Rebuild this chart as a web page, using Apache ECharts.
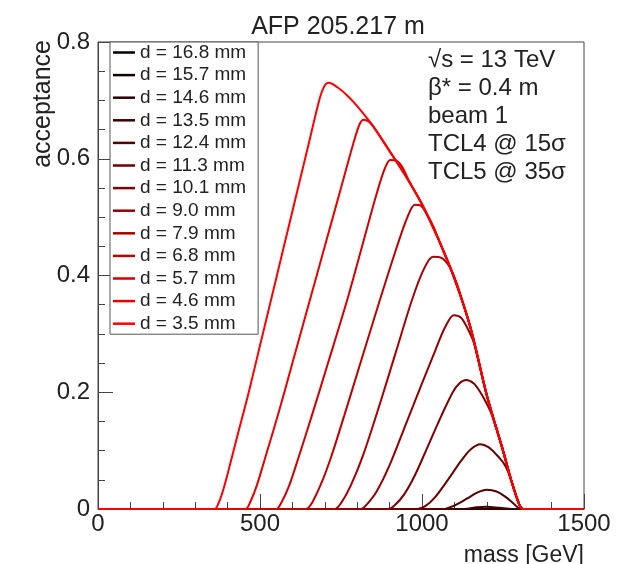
<!DOCTYPE html>
<html>
<head>
<meta charset="utf-8">
<script src="https://cdn.jsdelivr.net/npm/echarts@6/dist/echarts.min.js"></script>
<style>
  html, body { margin: 0; padding: 0; background: #fff; }
  #chart { width: 634px; height: 564px; }
</style>
</head>
<body>
<div id="chart"></div>
<script>
// [mass GeV, acceptance], one list per gap d
const d16_8 = [[0, 0], [1500, 0]];
const d15_7 = [[0, 0], [1500, 0]];
const d14_6 = [[0, 0], [1500, 0]];
const d13_5 = [[0, 0], [1130, 0], [1170, 0.003], [1200, 0.004], [1240, 0.002], [1280, 0], [1500, 0]];
const d12_4 = [[0, 0], [1065, 0], [1100, 0.006], [1140, 0.018], [1170, 0.028], [1200, 0.033], [1230, 0.03],
  [1260, 0.02], [1285, 0.008], [1305, 0], [1500, 0]];
const d11_3 = [[0, 0], [985, 0], [1010, 0.005], [1040, 0.02], [1080, 0.05], [1120, 0.082], [1150, 0.102],
  [1180, 0.111], [1205, 0.106], [1230, 0.093], [1250, 0.08], [1265, 0.065], [1280, 0.04], [1300, 0.008],
  [1312, 0], [1500, 0]];
const d10_1 = [[0, 0], [895, 0], [915, 0.006], [945, 0.025], [980, 0.06], [1020, 0.11], [1060, 0.16],
  [1095, 0.2], [1115, 0.215], [1136, 0.221], [1160, 0.215], [1180, 0.2], [1200, 0.18], [1215, 0.162],
  [1250, 0.1], [1275, 0.05], [1300, 0.008], [1312, 0], [1500, 0]];
const d9_0 = [[0, 0], [812, 0], [830, 0.008], [860, 0.03], [900, 0.075], [950, 0.145], [1000, 0.215],
  [1040, 0.27], [1070, 0.31], [1098, 0.332], [1120, 0.328], [1140, 0.31], [1160, 0.285], [1180, 0.24],
  [1200, 0.195], [1250, 0.1], [1275, 0.05], [1300, 0.008], [1312, 0], [1500, 0]];
const d7_9 = [[0, 0], [730, 0], [750, 0.01], [780, 0.04], [820, 0.095], [870, 0.18], [920, 0.27],
  [969, 0.358], [1005, 0.41], [1034, 0.432], [1060, 0.43], [1085, 0.415], [1105, 0.39], [1125, 0.355],
  [1150, 0.31], [1200, 0.195], [1250, 0.1], [1275, 0.05], [1300, 0.008], [1312, 0], [1500, 0]];
const d6_8 = [[0, 0], [642, 0], [660, 0.01], [690, 0.045], [720, 0.09], [760, 0.16], [810, 0.25],
  [870, 0.358], [920, 0.445], [955, 0.5], [978, 0.521], [995, 0.52], [1015, 0.505], [1035, 0.484],
  [1050, 0.463], [1100, 0.395], [1150, 0.31], [1200, 0.195], [1250, 0.1], [1275, 0.05], [1300, 0.008],
  [1312, 0], [1500, 0]];
const d5_7 = [[0, 0], [550, 0], [565, 0.01], [590, 0.04], [620, 0.09], [660, 0.16], [710, 0.25],
  [769, 0.358], [820, 0.46], [860, 0.54], [885, 0.583], [902, 0.598], [920, 0.597], [940, 0.585],
  [960, 0.562], [1000, 0.522], [1050, 0.463], [1100, 0.395], [1150, 0.31], [1200, 0.195], [1250, 0.1],
  [1275, 0.05], [1300, 0.008], [1312, 0], [1500, 0]];
const d4_6 = [[0, 0], [455, 0], [470, 0.012], [490, 0.04], [520, 0.095], [560, 0.17], [600, 0.25],
  [654, 0.358], [700, 0.45], [750, 0.55], [790, 0.63], [808, 0.66], [820, 0.667], [835, 0.664],
  [850, 0.655], [900, 0.613], [950, 0.57], [1000, 0.522], [1050, 0.463], [1100, 0.395], [1150, 0.31],
  [1200, 0.195], [1250, 0.1], [1275, 0.05], [1300, 0.008], [1312, 0], [1500, 0]];
const d3_5 = [[0, 0], [360, 0], [372, 0.01], [385, 0.03], [400, 0.06], [430, 0.125], [463, 0.195],
  [500, 0.28], [550, 0.395], [600, 0.51], [650, 0.625], [685, 0.705], [700, 0.726], [712, 0.73],
  [740, 0.722], [770, 0.708], [800, 0.69], [850, 0.655], [900, 0.613], [950, 0.57], [1000, 0.522],
  [1050, 0.463], [1100, 0.395], [1150, 0.31], [1200, 0.195], [1250, 0.1], [1275, 0.05], [1300, 0.008],
  [1312, 0], [1500, 0]];

const curveNames = ['d = 16.8 mm', 'd = 15.7 mm', 'd = 14.6 mm', 'd = 13.5 mm', 'd = 12.4 mm',
  'd = 11.3 mm', 'd = 10.1 mm', 'd = 9.0 mm', 'd = 7.9 mm', 'd = 6.8 mm', 'd = 5.7 mm',
  'd = 4.6 mm', 'd = 3.5 mm'];
const curveData = [d16_8, d15_7, d14_6, d13_5, d12_4, d11_3, d10_1, d9_0, d7_9, d6_8, d5_7, d4_6, d3_5];
const curveColors = ['#000000', '#150000', '#2a0000', '#400000', '#550000', '#6a0000', '#800000',
  '#950000', '#aa0000', '#bf0000', '#d40000', '#ea0000', '#ff0000'];

const xTicks = [0, 500, 1000, 1500];
const yTicks = [0, 0.2, 0.4, 0.6, 0.8];

const FONT = '"Liberation Sans", Arial, Helvetica, sans-serif';
const TXT = '#222';

let mychart = echarts.init(document.getElementById('chart'), null, { renderer: 'canvas' });

let seriesList = [];
for (let i = 0; i < curveData.length; i++) {
  seriesList.push({
    name: curveNames[i],
    type: 'line',
    data: curveData[i],
    smooth: 0.3,
    showSymbol: false,
    symbol: 'none',
    color: curveColors[i],
    lineStyle: { color: curveColors[i], width: 2 },
    emphasis: { disabled: true }
  });
}

let option = {
  animation: false,
  backgroundColor: '#fff',
  grid: {
    left: 98, right: 50, top: 42, bottom: 55,
    show: true, borderColor: '#444', borderWidth: 1,
    outerBoundsMode: 'none'
  },
  legend: {
    orient: 'vertical',
    left: 110, top: 42,
    data: curveNames,
    icon: 'rect',
    itemWidth: 22, itemHeight: 2.5,
    itemGap: 3.6,
    padding: [1, 12, 1, 3],
    borderColor: '#555', borderWidth: 1,
    backgroundColor: '#fff',
    selectedMode: false,
    textStyle: { fontFamily: FONT, fontSize: 19, color: TXT }
  },
  xAxis: {
    type: 'value',
    min: xTicks[0], max: xTicks[xTicks.length - 1], interval: 500,
    axisLine: { show: true, lineStyle: { color: '#444' } },
    axisTick: { show: true, inside: true, length: 15, lineStyle: { color: '#444' } },
    minorTick: { show: true, splitNumber: 5, length: 7, lineStyle: { color: '#444' } },
    splitLine: { show: false },
    axisLabel: { fontFamily: FONT, fontSize: 24, color: TXT, margin: 3,
      formatter: function (v) { return String(v); } }
  },
  yAxis: {
    type: 'value',
    min: yTicks[0], max: yTicks[yTicks.length - 1], interval: 0.2,
    axisLine: { show: true, lineStyle: { color: '#444' } },
    axisTick: { show: true, inside: true, length: 15, lineStyle: { color: '#444' } },
    minorTick: { show: true, splitNumber: 4, length: 7, lineStyle: { color: '#444' } },
    splitLine: { show: false },
    axisLabel: { fontFamily: FONT, fontSize: 24, color: TXT, margin: 8,
      formatter: function (v) { return String(Math.round(v * 10) / 10); } }
  },
  graphic: [
    {
      type: 'text', x: 338, y: 27,
      style: { text: 'AFP 205.217 m', fontFamily: FONT, fontSize: 25, fill: TXT,
        textAlign: 'center', textVerticalAlign: 'middle' }
    },
    {
      type: 'text', x: 56, y: 40, rotation: Math.PI / 2,
      style: { text: 'acceptance', fontFamily: FONT, fontSize: 25, fill: TXT,
        textAlign: 'right', textVerticalAlign: 'bottom' }
    },
    {
      type: 'text', x: 584, y: 556,
      style: { text: 'mass [GeV]', fontFamily: FONT, fontSize: 23, fill: TXT,
        textAlign: 'right', textVerticalAlign: 'middle' }
    },
    {
      type: 'text', x: 428, y: 46,
      style: { text: '√s = 13 TeV\nβ* = 0.4 m\nbeam 1\nTCL4 @ 15σ\nTCL5 @ 35σ',
        fontFamily: FONT, fontSize: 24, lineHeight: 28, fill: TXT,
        textAlign: 'left', textVerticalAlign: 'top' }
    }
  ],
  series: seriesList
};

mychart.setOption(option);
</script>
</body>
</html>
